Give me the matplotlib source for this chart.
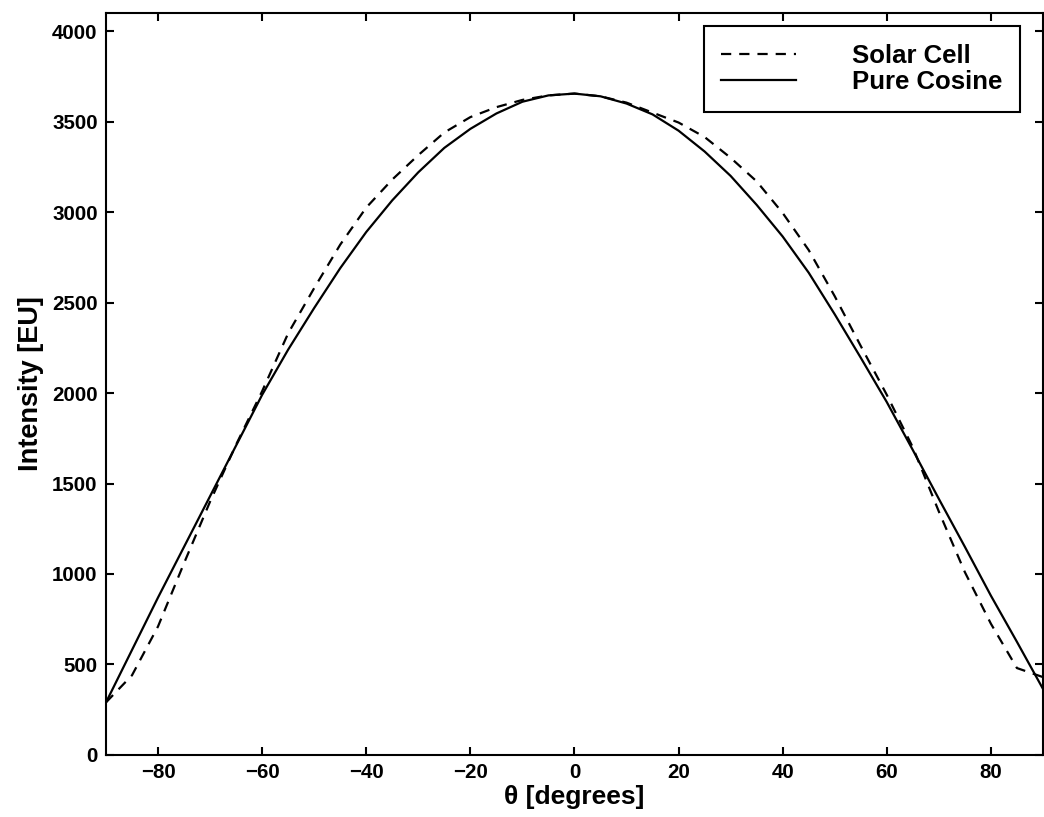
import matplotlib
matplotlib.use("Agg")
import matplotlib.pyplot as plt
import numpy as np

plt.rcParams['font.family'] = ['Liberation Sans', 'DejaVu Sans']
plt.rcParams['font.weight'] = 'bold'

# angle in degrees
theta = [-90, -85, -80, -75, -70, -65, -60, -55, -50, -45, -40, -35, -30,
         -25, -20, -15, -10, -5, 0, 5, 10, 15, 20, 25, 30, 35, 40, 45,
         50, 55, 60, 65, 70, 75, 80, 85, 90]

# measured solar cell response
solar_cell = [290, 440, 710, 1060, 1400, 1715, 2010, 2330, 2580, 2820, 3025,
              3180, 3315, 3440, 3525, 3580, 3620, 3645, 3655, 3640, 3605,
              3550, 3495, 3415, 3300, 3170, 2995, 2790, 2535, 2260, 1990,
              1700, 1345, 1010, 725, 480, 430]

# ideal cosine response
pure_cosine = [290, 580, 870, 1150, 1430, 1710, 1990, 2240, 2470, 2690, 2890,
               3065, 3220, 3355, 3460, 3545, 3610, 3645, 3655, 3640, 3600,
               3540, 3450, 3335, 3200, 3040, 2865, 2665, 2435, 2195, 1950,
               1685, 1415, 1150, 880, 625, 365]

fig = plt.figure(figsize=(10.44, 8.17), dpi=100)
ax = fig.add_axes([0.1015, 0.076, 0.8975, 0.908])

l1, = ax.plot(theta, solar_cell, color='black', lw=1.6, linestyle='--',
              label='Solar Cell')
l1.set_dashes((4.6, 3.6))
ax.plot(theta, pure_cosine, color='black', lw=1.6, linestyle='-',
        label='Pure Cosine')

ax.set_xlim(-90, 90)
ax.set_ylim(0, 4100)
ax.set_xticks(np.arange(-80, 81, 20))
ax.set_yticks(np.arange(0, 4001, 500))

ax.tick_params(direction='in', length=6, width=1.5, top=True, right=True,
               labelsize=14.8, pad=6)
for lab in ax.get_xticklabels() + ax.get_yticklabels():
    lab.set_fontweight('bold')
for s in ax.spines.values():
    s.set_linewidth(1.5)

ax.set_xlabel('θ [degrees]', fontsize=19, fontweight='bold', labelpad=2)
ax.set_ylabel('Intensity [EU]', fontsize=19.5, fontweight='bold', labelpad=6)

leg = ax.legend(loc='upper right', bbox_to_anchor=(0.9755, 0.9825),
                handlelength=2.9, handletextpad=2.2, fancybox=False,
                framealpha=1, borderaxespad=0, borderpad=0.68,
                labelspacing=0.1, prop={'weight': 'bold', 'size': 18.5})
leg.get_frame().set_edgecolor('black')
leg.get_frame().set_linewidth(1.5)

fig.savefig('out.png', dpi=100)
